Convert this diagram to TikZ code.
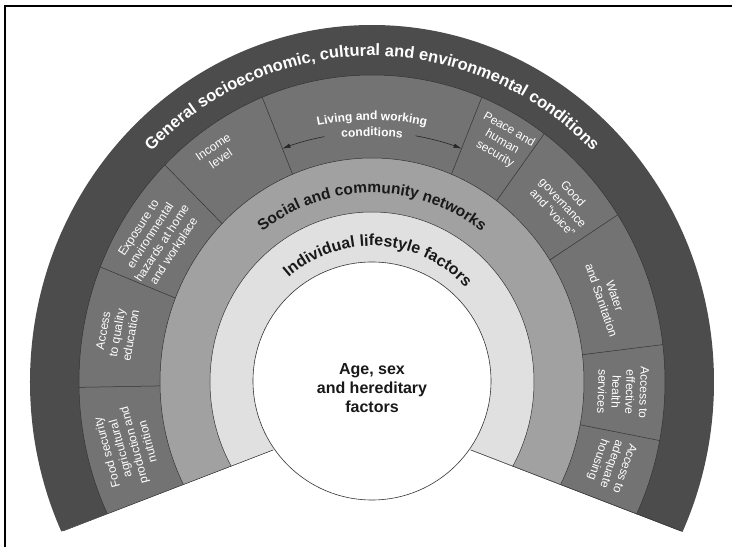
\documentclass[tikz,border=0pt]{standalone}
\usepackage{fontspec}
\setmainfont{Liberation Sans}
\usetikzlibrary{decorations.text,arrows.meta}

\begin{document}
\begin{tikzpicture}
    [
        x=1pt, y=1pt,
        seg_style/.style={text=white, align=center, font=\fontsize{12}{14}\selectfont},
        ring_style/.style={draw=black!80, line width=0.5pt},
        arrow_style/.style={draw=black!85, line width=0.6pt, -{Latex[length=8pt,width=4.5pt]}},
        core_style/.style={circle, draw=black!80, fill=white, line width=0.6pt, minimum size=238pt, inner sep=0pt},
        core_text/.style={align=center, text=black!90, font=\bfseries\fontsize{16}{19}\selectfont}
    ]
    \useasboundingbox (-372,-165) rectangle (360,382);
    \draw[line width=1.6pt] (-367,-165) -- (-367,376) -- (360,376);

    % the bands, cut off at the bottom
    \begin{scope}
        \clip (-372,-173) -- (0,-30) -- (360,-169) -- (360,382) -- (-372,382) -- cycle;
        \fill[black!70] (0,0) ellipse[x radius=342pt, y radius=357pt];
        \fill[black!55] (0,0) ellipse[x radius=293pt, y radius=307pt];
        \fill[black!37] (0,0) ellipse[x radius=212pt, y radius=224pt];
        \fill[black!12] (0,0) ellipse[x radius=162pt, y radius=170pt];
        \draw[ring_style] (0,0) ellipse[x radius=293pt, y radius=307pt];
        \draw[ring_style] (0,0) ellipse[x radius=212pt, y radius=224pt];
        \draw[ring_style] (0,0) ellipse[x radius=162pt, y radius=170pt];
        \foreach \a in {181,158,135,112,68,54,33,7,-11}
            \draw[ring_style] (\a:212pt and 224pt) -- (\a:293pt and 307pt);
    \end{scope}
    \draw[ring_style] (-309,-149) -- (-99,-68);
    \draw[ring_style] (309,-149) -- (99,-68);

    \node[core_style] (c0) at (0,1) {};
    \node[core_text] (c1) at (0,-6) {Age, sex\\and hereditary\\factors};

    % band titles
    \path[decorate, decoration={text along path, text align=center, text color=white,
        text={|\bfseries\fontsize{16.5}{18}\selectfont|General socioeconomic, cultural and environmental conditions}}]
        (165:312pt and 326pt) arc[start angle=165, end angle=15, x radius=312pt, y radius=326pt];
    \path[decorate, decoration={text along path, text align=center, text color=black!90,
        text={|\bfseries\fontsize{15.5}{18}\selectfont|Social and community networks}}]
        (170:181pt and 189pt) arc[start angle=170, end angle=10, x radius=181pt, y radius=189pt];
    \path[decorate, decoration={text along path, text align=center, text color=black!90,
        text={|\bfseries\fontsize{16}{18}\selectfont|Individual lifestyle factors}}]
        (172:130pt and 136pt) arc[start angle=172, end angle=2, x radius=130pt, y radius=136pt];

    % living and working conditions
    \path[decorate, decoration={text along path, text align=center, text color=white,
        text={|\bfseries\fontsize{12}{14}\selectfont|Living and working}}]
        (140:262pt) arc[start angle=140, end angle=40, radius=262pt];
    \path[decorate, decoration={text along path, text align=center, text color=white,
        text={|\bfseries\fontsize{12}{14}\selectfont|conditions}}]
        (140:246pt) arc[start angle=140, end angle=40, radius=246pt];
    \draw[arrow_style] (101:250pt) arc[start angle=101, end angle=111, radius=250pt];
    \draw[arrow_style] (80:250pt) arc[start angle=80, end angle=69, radius=250pt];

    % segment labels
    \node[seg_style, rotate=34] (l01) at (-155,229) {Income\\level};
    \node[seg_style, rotate=57] (l02) at (-215,142) {Exposure to\\environmental\\hazards at home\\and workplace};
    \node[seg_style, rotate=80] (l03) at (-255,49) {Access\\to quality\\education};
    \node[seg_style, rotate=105] (l04) at (-245,-65) {Food security\\agricultural\\production and\\nutrition};
    \node[seg_style, rotate=-30] (l05) at (130,240) {Peace and\\human\\security};
    \node[seg_style, rotate=-47] (l06) at (191,179) {Good\\governance\\and “voice”};
    \node[seg_style, rotate=-71] (l07) at (236,84) {Water\\and Sanitation};
    \node[seg_style, rotate=-92] (l08) at (251,-10) {Access to\\effective\\health\\services};
    \node[seg_style, rotate=-109] (l09) at (239,-82) {Access to\\adequate\\housing};
\end{tikzpicture}
\end{document}
